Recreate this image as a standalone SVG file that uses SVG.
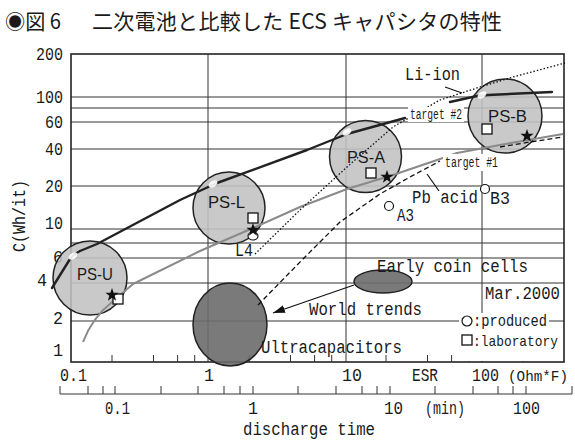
<svg xmlns="http://www.w3.org/2000/svg" width="575" height="441" viewBox="0 0 575 441">
<style>
 .grid{stroke:#333;stroke-width:1;fill:none}
 .frame{stroke:#222;stroke-width:1.6;fill:none}
 .tick{stroke:#333;stroke-width:1;fill:none}
 .m{font-family:"Liberation Mono","DejaVu Sans Mono",monospace;font-size:19px;fill:#1a1a1a}
 .sm{font-family:"Liberation Mono","DejaVu Sans Mono",monospace;font-size:14px;fill:#1a1a1a}
 .ps{font-family:"Liberation Sans",Arial,sans-serif;font-size:17px;fill:#1a1a1a}
 .ttl{font-family:"Noto Sans CJK JP","Noto Sans CJK SC",sans-serif;font-size:21px;fill:#1a1a1a}
 .ball{fill:#c2c2c2;fill-opacity:0.88;stroke:#222;stroke-width:1.5}
 .dark{fill:#6b6b6b;fill-opacity:0.9;stroke:#222;stroke-width:1.5}
 .hl{fill:#fff;opacity:0.9}
 .sq{fill:#fff;stroke:#111;stroke-width:1.3}
 .prod{fill:#fff;stroke:#111;stroke-width:1.2}
 .t2{stroke:#222;stroke-width:2.4;fill:none;stroke-linejoin:round;stroke-linecap:round}
 .t1{stroke:#8a8a8a;stroke-width:2;fill:none;stroke-linejoin:round}
 .pb{stroke:#111;stroke-width:1.3;fill:none;stroke-dasharray:5 3}
 .li{stroke:#111;stroke-width:1.3;fill:none;stroke-dasharray:1.5 2}
 .lead{stroke:#111;stroke-width:1.2;fill:none}
 .bg{fill:#fff}
</style>
<defs>
 <path id="star" d="M0,-7 L1.65,-2.27 L6.66,-2.16 L2.66,0.87 L4.11,5.66 L0,2.8 L-4.11,5.66 L-2.66,0.87 L-6.66,-2.16 L-1.65,-2.27 Z" fill="#111"/>
 <marker id="arr" viewBox="0 0 12 8" refX="12" refY="4" markerWidth="12" markerHeight="8" orient="auto" markerUnits="userSpaceOnUse">
  <path d="M0,0 L12,4 L0,8 Z" fill="#111"/>
 </marker>
</defs>
<rect width="575" height="441" fill="#fff"/>

<g id="title">
 <text class="ttl" x="5" y="29" textLength="56" lengthAdjust="spacingAndGlyphs">◉図 6</text>
 <text class="ttl" x="92" y="29" textLength="410" lengthAdjust="spacing">二次電池と比較した ECS キャパシタの特性</text>
</g>

<g id="grid">
 <path class="grid" d="M71,97H564M71,108H564M71,122H564M71,149H564M71,186H564M71,229H564M71,258H564M71,283H564M71,321H564"/>
 <path class="grid" d="M71,243H564" stroke="#999"/>
 <path class="grid" d="M208,54V362M346,54V362M482,54V362"/>
 <rect class="frame" x="71" y="54" width="493" height="308"/>
</g>

<g id="axes">
 <path class="tick" d="M112,355V362M153.5,355V362M177.6,355V362M194.7,355V362M249,355V362M290.5,355V362M314.6,355V362M331.7,355V362M386,355V362M427.5,355V362M451.6,355V362M468.7,355V362M523,355V362"/>
 <path class="tick" d="M60,394H572M60,386V394M88,386V394M103,386V394M115,386V394M161,386V394M198,386V394M224,386V394M240,386V394M253,386V394M298,386V394M336,386V394M362,386V394M377,386V394M390,386V394M435,386V394M473,386V394M498,386V394M513,386V394M526,386V394M572,386V394"/>
 <g class="m">
  <text x="36" y="60" textLength="27" lengthAdjust="spacingAndGlyphs">200</text>
  <text x="36" y="103" textLength="27" lengthAdjust="spacingAndGlyphs">100</text>
  <text x="45" y="128" textLength="18" lengthAdjust="spacingAndGlyphs">60</text>
  <text x="45" y="155" textLength="18" lengthAdjust="spacingAndGlyphs">40</text>
  <text x="45" y="192" textLength="18" lengthAdjust="spacingAndGlyphs">20</text>
  <text x="45" y="229" textLength="18" lengthAdjust="spacingAndGlyphs">10</text>
  <text x="53" y="263" textLength="10" lengthAdjust="spacingAndGlyphs">6</text>
  <text x="37" y="286" textLength="10" lengthAdjust="spacingAndGlyphs">4</text>
  <text x="53" y="324" textLength="10" lengthAdjust="spacingAndGlyphs">2</text>
  <text x="53" y="356" textLength="10" lengthAdjust="spacingAndGlyphs">1</text>
  <text transform="translate(25,216) rotate(-90)" x="-36" y="0" textLength="72" lengthAdjust="spacingAndGlyphs">C(Wh/it)</text>
  <text x="60" y="381" textLength="27" lengthAdjust="spacingAndGlyphs">0.1</text>
  <text x="204" y="381" textLength="10" lengthAdjust="spacingAndGlyphs">1</text>
  <text x="342" y="381" textLength="20" lengthAdjust="spacingAndGlyphs">10</text>
  <text x="412" y="381" textLength="26" lengthAdjust="spacingAndGlyphs">ESR</text>
  <text x="472" y="381" textLength="27" lengthAdjust="spacingAndGlyphs">100</text>
  <text x="508" y="381" textLength="60" lengthAdjust="spacingAndGlyphs" style="font-size:15px">(Ohm*F)</text>
  <text x="105" y="414" textLength="25" lengthAdjust="spacingAndGlyphs">0.1</text>
  <text x="248" y="414" textLength="10" lengthAdjust="spacingAndGlyphs">1</text>
  <text x="384" y="414" textLength="19" lengthAdjust="spacingAndGlyphs">10</text>
  <text x="425" y="414" textLength="40" lengthAdjust="spacingAndGlyphs">(min)</text>
  <text x="513" y="414" textLength="27" lengthAdjust="spacingAndGlyphs">100</text>
  <text x="243" y="435" textLength="132" lengthAdjust="spacingAndGlyphs">discharge time</text>
 </g>
</g>

<g id="ps-u"><circle class="ball" cx="90" cy="278" r="37"/><text class="ps" x="77" y="280" textLength="36" lengthAdjust="spacingAndGlyphs">PS-U</text></g>
<g id="ps-l"><circle class="ball" cx="229" cy="208" r="36"/><text class="ps" x="208" y="208" textLength="37" lengthAdjust="spacingAndGlyphs">PS-L</text></g>
<g id="ps-a"><circle class="ball" cx="365.5" cy="156.5" r="36"/><text class="ps" x="347" y="163" textLength="38" lengthAdjust="spacingAndGlyphs">PS-A</text></g>
<g id="ps-b"><circle class="ball" cx="505" cy="116" r="37"/><text class="ps" x="488" y="122" textLength="39" lengthAdjust="spacingAndGlyphs">PS-B</text></g>
<g id="ultracapacitors"><ellipse class="dark" cx="230" cy="324.5" rx="37" ry="41.5"/><text class="m" x="261" y="353" textLength="141" lengthAdjust="spacingAndGlyphs">Ultracapacitors</text></g>
<g id="early-coin-cells"><ellipse class="dark" cx="383" cy="281.5" rx="29" ry="11.5"/><text class="m" x="377" y="272" textLength="151" lengthAdjust="spacingAndGlyphs">Early coin cells</text></g>

<g id="connectors">
 <path class="t2" d="M52,288 L70,259 Q74,254 80,251 L97,244 L180,200 L217,183 L307,150 L347,134 L405,118"/>
 <path class="t2" d="M450,102 L477,96 L488,95 L552,92"/>
 <path class="t1" d="M83,342 Q92,318 112,302 L133,284 L200,251 L253,228 L300,207 L347,189 L393,175 L440,159 L457,153 L500,145 L563,134"/>
 <path class="pb" d="M258,305 L302,260 L340,222 L380,194 L410,177 L440,161"/>
 <path class="pb" d="M500,147 L530,142 L563,137"/>
 <path class="li" d="M255,254 L300,210 L347,167 L393,127 L440,100 L480,87 L513,77 L565,63"/>
 <path class="lead" d="M445,87 L462,93"/>
 <path class="lead" d="M427,174 L439,191"/>
 <path class="lead" d="M354,285 L273,313" marker-end="url(#arr)"/>
</g>

<g id="highlights">
 <ellipse class="hl" cx="73" cy="256" rx="5" ry="3" transform="rotate(-35 73 256)"/>
 <ellipse class="hl" cx="213" cy="184" rx="5" ry="3" transform="rotate(-35 213 184)"/>
 <ellipse class="hl" cx="347" cy="132" rx="5" ry="3" transform="rotate(-35 347 132)"/>
 <ellipse class="hl" cx="482" cy="95" rx="5" ry="3" transform="rotate(-35 482 95)"/>
</g>

<g id="labels">
 <rect class="bg" x="408" y="107" width="56" height="15"/>
 <text class="sm" x="410" y="119" textLength="52" lengthAdjust="spacingAndGlyphs">target #2</text>
 <rect class="bg" x="443" y="154" width="57" height="17"/>
 <text class="sm" x="445" y="167" textLength="53" lengthAdjust="spacingAndGlyphs">target #1</text>
 <text class="m" x="405" y="80" textLength="55" lengthAdjust="spacingAndGlyphs">Li-ion</text>
 <text class="m" x="412" y="203" textLength="66" lengthAdjust="spacingAndGlyphs">Pb acid</text>
 <text class="m" x="397" y="221" textLength="17" lengthAdjust="spacingAndGlyphs">A3</text>
 <text class="m" x="490" y="204" textLength="20" lengthAdjust="spacingAndGlyphs">B3</text>
 <text class="m" x="235" y="256" textLength="18" lengthAdjust="spacingAndGlyphs">L4</text>
 <text class="m" x="309" y="315" textLength="113" lengthAdjust="spacingAndGlyphs">World trends</text>
</g>

<g id="legend">
 <rect class="bg" x="459" y="313" width="90" height="16"/>
 <rect class="bg" x="459" y="329" width="104" height="32"/>
 <text class="m" x="485" y="299" textLength="75" lengthAdjust="spacingAndGlyphs">Mar.2000</text>
 <circle class="prod" cx="467" cy="321" r="5"/>
 <text class="m" x="473" y="326" textLength="74" lengthAdjust="spacingAndGlyphs" style="font-size:16px">:produced</text>
 <rect class="sq" x="462" y="335" width="10" height="10"/>
 <text class="m" x="473" y="346" textLength="85" lengthAdjust="spacingAndGlyphs" style="font-size:15px">:laboratory</text>
</g>

<g id="points">
 <rect class="sq" x="113" y="294" width="10" height="10"/>
 <use href="#star" x="112" y="295"/>
 <rect class="sq" x="248" y="213" width="10" height="10"/>
 <ellipse class="prod" cx="253" cy="236" rx="5" ry="4"/>
 <use href="#star" x="253" y="230"/>
 <rect class="sq" x="366" y="168" width="10" height="10"/>
 <use href="#star" x="387" y="177"/>
 <rect class="sq" x="482" y="124" width="10" height="10"/>
 <use href="#star" x="527" y="136"/>
 <circle class="prod" cx="389" cy="206" r="4.5"/>
 <circle class="prod" cx="485" cy="189" r="4.5"/>
</g>
</svg>
